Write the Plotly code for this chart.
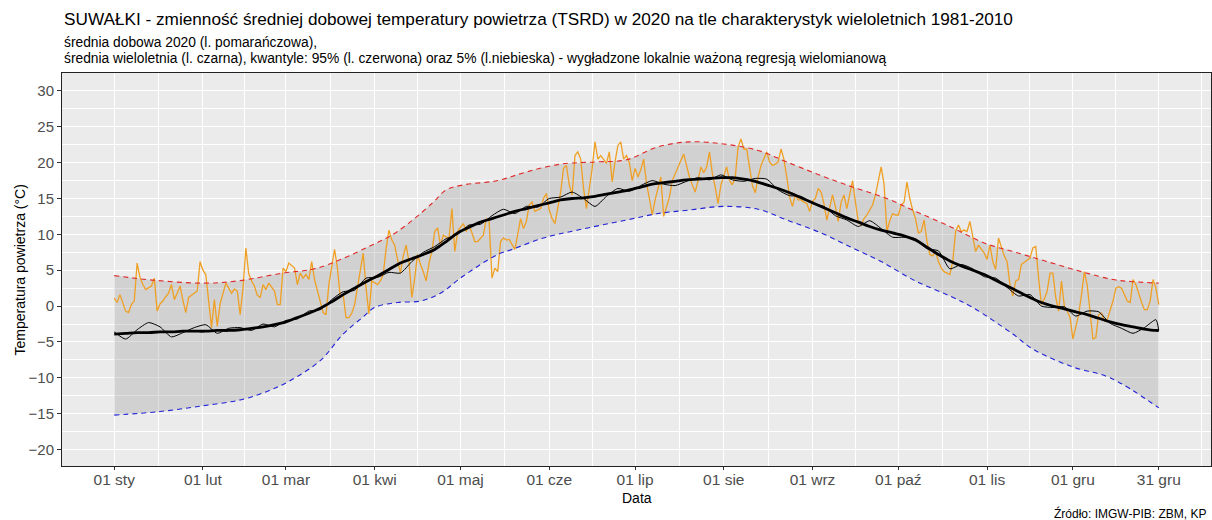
import numpy as np
import plotly.graph_objects as go

# ---------------- data ----------------
# daily mean temperature 2020 (orange), one list per month
t2020_jan = [1.1, 0.5, 1.6, 0.4, -0.7, -0.9, 0.2, 0.7, 6.0, 4.0, 3.0, 2.3, 2.6, 2.8, 3.9, -0.7,
             0.3, 0.7, 1.3, 1.8, 3.0, 0.9, 1.8, 2.8, 0.8, -0.9, 1.2, 1.5, 1.8, 2.1, 6.2]
t2020_feb = [5.0, 4.4, 0.7, -3.0, 0.9, -2.8, 0.3, 1.8, 3.2, 2.5, 1.8, 2.4, 2.1, -1.2, 2.5, 8.1,
             4.5, 3.5, 2.8, 1.5, 1.2, 3.0, 2.3, 3.2, 2.6, 2.1, 0.2, 0.2, 5.3]
t2020_mar = [4.8, 6.0, 5.6, 5.3, 3.0, 4.6, 3.9, 4.4, 3.7, 6.2, 3.7, 2.1, 0.5, -0.9, -1.2, 3.0,
             5.5, 7.9, 5.3, 1.2, 1.6, -1.6, -1.6, -1.0, 0.2, 2.5, 4.8, 7.4, 2.5, -1.1, 3.5]
t2020_apr = [3.2, 3.0, 3.5, 4.4, 8.0, 10.6, 9.2, 8.5, 6.5, 4.6, 7.0, 8.5, 6.2, 1.2, 3.9, 7.2,
             5.8, 4.8, 3.5, 6.0, 7.6, 10.4, 10.9, 8.5, 9.9, 9.6, 9.5, 13.6, 7.6, 10.4]
t2020_may = [11.0, 11.5, 10.4, 11.3, 10.2, 9.0, 9.0, 9.4, 9.9, 12.2, 11.8, 3.9, 5.3, 4.8, 9.0,
             9.5, 9.2, 9.3, 8.6, 7.9, 10.0, 12.2, 10.8, 11.8, 14.1, 14.5, 13.2, 13.4, 13.6, 15.0, 15.7]
t2020_jun = [13.4, 12.2, 11.5, 13.6, 15.9, 19.2, 19.6, 16.9, 15.5, 21.0, 21.5, 20.5, 16.4, 13.6,
             16.4, 19.2, 22.9, 20.5, 21.0, 20.5, 19.9, 21.5, 17.3, 20.1, 22.4, 22.9, 20.5, 21.0, 20.0, 17.5]
t2020_jul = [19.2, 18.0, 19.0, 20.5, 17.1, 15.0, 12.7, 14.8, 16.5, 18.0, 12.5, 14.0, 15.2, 17.5,
             18.5, 19.5, 20.3, 21.2, 19.4, 18.0, 16.9, 15.9, 17.5, 19.4, 18.6, 19.4, 21.5, 18.5, 16.6, 14.3, 16.9]
t2020_aug = [18.0, 19.4, 17.5, 16.9, 18.0, 22.2, 23.3, 21.9, 21.9, 19.4, 16.8, 15.8, 18.0, 19.6,
             20.5, 21.5, 20.1, 19.6, 19.8, 20.1, 21.9, 20.5, 18.0, 15.2, 13.9, 15.5, 14.8, 14.8, 14.5, 14.3, 13.2]
t2020_sep = [14.6, 15.0, 16.4, 15.9, 14.3, 12.0, 13.6, 15.5, 13.9, 11.8, 14.5, 15.5, 13.6, 15.5,
             17.5, 14.5, 11.8, 11.3, 12.2, 12.7, 13.4, 14.1, 15.5, 17.3, 19.4, 17.0, 10.4, 11.9, 12.9, 12.7]
t2020_oct = [12.7, 14.1, 14.5, 17.3, 15.0, 13.4, 12.2, 10.2, 10.4, 12.0, 9.0, 7.2, 7.0, 7.6, 6.2,
             5.3, 4.8, 4.6, 4.4, 6.2, 10.4, 11.3, 10.4, 10.6, 10.4, 11.8, 9.5, 7.6, 8.5, 7.9, 7.4]
t2020_nov = [6.5, 8.5, 6.2, 5.1, 9.5, 8.1, 7.0, 6.2, 3.0, 1.4, 3.5, 3.7, 5.8, 6.1, 6.4, 6.7, 8.1,
             8.3, 3.9, 0.2, 1.0, 2.1, 4.6, 4.6, 1.2, -0.7, 3.5, 0.0, -0.7, -1.6]
t2020_dec = [-4.6, -3.0, -1.2, 1.6, 4.8, 2.9, -1.2, -4.6, -4.4, -1.2, -1.0, -2.1, -1.9, -0.7, 0.7,
             2.5, 2.7, 2.5, 1.5, 0.7, 0.5, 3.7, 3.0, 1.6, 0.5, -0.5, -0.5, 0.7, 3.7, 2.5, 0.2]

# long-term mean (black), sampled every 4 days + last day
mean_days = list(range(0, 365, 4)) + [365]
mean_smooth = [-3.9, -3.8, -3.7, -3.7, -3.6, -3.6, -3.5, -3.5, -3.5, -3.4, -3.4, -3.3, -3.1, -2.9,
               -2.6, -2.2, -1.6, -1.0, -0.3, 0.6, 1.6, 2.5, 3.4, 4.2, 5.1, 6.0, 6.6, 7.2, 7.9, 9.0,
               10.2, 11.0, 11.7, 12.2, 12.7, 13.2, 13.6, 14.0, 14.4, 14.8, 15.0, 15.1, 15.3, 15.6,
               15.9, 16.2, 16.6, 17.0, 17.2, 17.4, 17.6, 17.7, 17.8, 17.9, 17.9, 17.7, 17.4, 16.9,
               16.4, 15.8, 15.1, 14.4, 13.7, 13.0, 12.3, 11.7, 11.1, 10.6, 10.2, 9.8, 9.2, 8.2, 7.2,
               6.3, 5.6, 5.0, 4.4, 3.6, 2.8, 2.0, 1.2, 0.5, 0.0, -0.4, -0.8, -1.2, -1.7, -2.2, -2.6,
               -2.9, -3.2, -3.4, -3.4]
mean_raw = [-3.6, -4.6, -3.3, -2.3, -2.9, -4.3, -3.7, -3.0, -2.6, -3.8, -3.1, -3.0, -3.4, -2.5,
            -2.9, -2.0, -1.8, -0.7, -0.5, 0.9, 2.0, 2.2, 3.9, 4.0, 4.7, 4.6, 6.2, 7.5, 8.3, 9.4,
            10.0, 11.3, 11.4, 12.6, 13.5, 12.9, 13.9, 13.8, 15.0, 15.2, 15.9, 15.0, 13.9, 15.3,
            16.4, 16.0, 16.8, 17.5, 17.0, 16.8, 17.4, 17.9, 17.6, 18.3, 17.6, 17.4, 17.8, 17.7,
            16.2, 15.4, 15.3, 14.3, 13.9, 12.6, 12.0, 11.1, 11.9, 10.8, 9.6, 9.6, 9.4, 8.0, 7.7,
            5.2, 5.8, 5.2, 4.1, 3.9, 2.6, 1.4, 1.6, 0.0, -0.2, -0.1, -1.4, -0.7, -0.8, -2.4, -3.1,
            -3.8, -3.0, -1.9, -3.4]

# 95% quantile (red) and 5% quantile (blue), smoothed
q95_days = [0, 14, 31, 43, 59, 71, 89, 99, 111, 116, 122, 134, 144, 156, 168, 179, 190, 201,
            213, 225, 235, 247, 258, 270, 280, 292, 304, 315, 326, 338, 349, 356, 365]
q95 = [4.25, 3.6, 3.2, 3.5, 4.6, 5.3, 8.3, 10.4, 14.3, 16.2, 16.9, 17.5, 18.7, 19.8, 20.1, 20.4,
       22.2, 22.9, 22.6, 21.7, 20.1, 18.2, 16.6, 15.0, 13.2, 11.1, 8.8, 7.5, 6.2, 4.8, 3.7, 3.4, 3.2]
q05_days = [0, 16, 31, 45, 54, 61, 72, 80, 87, 91, 99, 107, 114, 122, 134, 139, 150, 162, 179,
            190, 201, 213, 225, 235, 247, 258, 268, 280, 292, 300, 314, 321, 335, 348, 365]
q05 = [-15.2, -14.7, -13.9, -13.0, -11.8, -10.5, -7.6, -3.9, -1.5, -0.2, 0.5, 0.7, 1.8, 4.2,
       7.2, 7.9, 9.5, 10.6, 12.0, 12.9, 13.4, 13.9, 13.5, 12.0, 10.2, 8.1, 6.2, 3.5, 1.4, -0.2,
       -3.9, -6.0, -8.5, -10.0, -14.2]

tick_days = [0, 31, 60, 91, 121, 152, 182, 213, 244, 274, 305, 335, 365]
tick_labels = ["01 sty", "01 lut", "01 mar", "01 kwi", "01 maj", "01 cze", "01 lip",
               "01 sie", "01 wrz", "01 paź", "01 lis", "01 gru", "31 gru"]

# ---------------- figure ----------------
t2020 = (t2020_jan + t2020_feb + t2020_mar + t2020_apr + t2020_may + t2020_jun +
         t2020_jul + t2020_aug + t2020_sep + t2020_oct + t2020_nov + t2020_dec)
days = list(range(len(t2020)))

FONT = "Liberation Sans, Arial, sans-serif"
fig = go.Figure()

# shaded band between quantiles
fig.add_trace(go.Scatter(x=q05_days, y=q05, mode="lines", line=dict(width=0, shape="spline"),
                         hoverinfo="skip", showlegend=False))
fig.add_trace(go.Scatter(x=q95_days, y=q95, mode="lines", line=dict(width=0, shape="spline"),
                         fill="tonexty", fillcolor="rgba(150,150,150,0.30)",
                         hoverinfo="skip", showlegend=False))

fig.add_trace(go.Scatter(x=days, y=t2020, mode="lines",
                         line=dict(color="#EFA024", width=1.3), showlegend=False))
fig.add_trace(go.Scatter(x=mean_days, y=mean_raw, mode="lines",
                         line=dict(color="black", width=1.0, shape="spline", smoothing=0.6),
                         showlegend=False))
fig.add_trace(go.Scatter(x=mean_days, y=mean_smooth, mode="lines",
                         line=dict(color="black", width=2.8, shape="spline"), showlegend=False))
fig.add_trace(go.Scatter(x=q95_days, y=q95, mode="lines",
                         line=dict(color="#E02828", width=1.1, dash="5px,4px", shape="spline"),
                         showlegend=False))
fig.add_trace(go.Scatter(x=q05_days, y=q05, mode="lines",
                         line=dict(color="#2020D8", width=1.1, dash="5px,4px", shape="spline"),
                         showlegend=False))

minor_x = [(tick_days[i] + tick_days[i + 1]) / 2 for i in range(len(tick_days) - 1)] + [380]

fig.update_layout(
    width=1212, height=520,
    margin=dict(l=62, r=1, t=73, b=54),
    paper_bgcolor="white", plot_bgcolor="#EBEBEB",
    font=dict(family=FONT, color="black"),
    showlegend=False,
    xaxis=dict(range=[-18.25, 383.25], tickmode="array", tickvals=tick_days, ticktext=tick_labels,
               showgrid=True, gridcolor="white", gridwidth=1.2, zeroline=False,
               ticks="outside", ticklen=3, tickcolor="#333333", tickwidth=1,
               ticklabelstandoff=-4,
               tickfont=dict(size=15.5, color="#4D4D4D", family=FONT),
               showline=True, linecolor="#222222", linewidth=1, mirror=True,
               minor=dict(tickmode="array", tickvals=minor_x, showgrid=True,
                          gridcolor="white", gridwidth=0.6, ticks="")),
    yaxis=dict(range=[-22.3, 32.5], tickmode="array", tickvals=list(range(-20, 31, 5)),
               showgrid=True, gridcolor="white", gridwidth=1.2, zeroline=False,
               ticks="outside", ticklen=4, tickcolor="#333333", tickwidth=1,
               tickfont=dict(size=15, color="#4D4D4D", family=FONT),
               showline=True, linecolor="#222222", linewidth=1, mirror=True,
               minor=dict(tickmode="array", tickvals=[v + 2.5 for v in range(-20, 30, 5)],
                          showgrid=True, gridcolor="white", gridwidth=0.6, ticks="")),
)

ann = [
    dict(text="SUWAŁKI - zmienność średniej dobowej temperatury powietrza (TSRD) w 2020 na tle "
              "charakterystyk wieloletnich 1981-2010",
         x=0, y=1.137, xanchor="left", yanchor="middle", font=dict(size=17.2)),
    dict(text="średnia dobowa 2020 (l. pomarańczowa),",
         x=0, y=1.078, xanchor="left", yanchor="middle", font=dict(size=13.8)),
    dict(text="średnia wieloletnia (l. czarna), kwantyle: 95% (l. czerwona) oraz 5% (l.niebieska) - "
              "wygładzone lokalnie ważoną regresją wielomianową",
         x=0, y=1.038, xanchor="left", yanchor="middle", font=dict(size=13.8)),
    dict(text="Data", x=0.5, y=-0.082, xanchor="center", yanchor="middle", font=dict(size=14)),
    dict(text="Temperatura powietrza (°C)", x=-0.0366, y=0.5, textangle=-90,
         xanchor="center", yanchor="middle", font=dict(size=14)),
    dict(text="Źródło: IMGW-PIB: ZBM, KP", x=0.9975, y=-0.1196, xanchor="right",
         yanchor="middle", font=dict(size=12)),
]
for a in ann:
    a.update(xref="paper", yref="paper", showarrow=False)
    fig.add_annotation(**a)

fig.write_html("out.html")
